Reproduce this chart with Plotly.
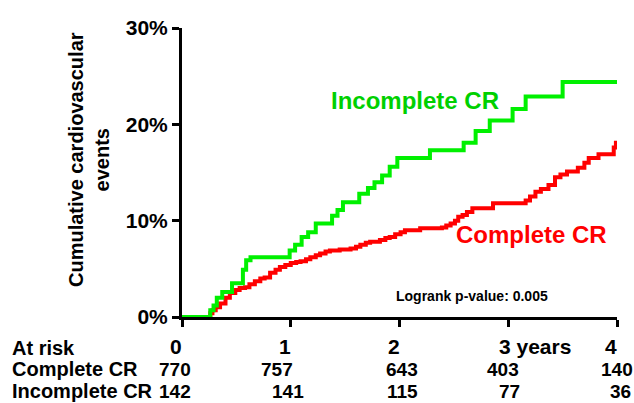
import plotly.graph_objects as go

# ---- data ----
incomplete_t = [0, 0.26, 0.29, 0.32, 0.37, 0.46, 0.56, 0.59, 0.63, 0.99, 1.04, 1.10, 1.16, 1.23,
                1.38, 1.43, 1.48, 1.63, 1.71, 1.77, 1.84, 1.91, 1.98, 2.28, 2.59, 2.70, 2.83,
                3.04, 3.16, 3.50, 4.0]
incomplete_v = [0, 0.7, 1.2, 2.0, 2.6, 3.5, 4.9, 5.9, 6.2, 6.9, 7.5, 8.3, 8.8, 9.7,
                10.5, 11.1, 11.9, 12.8, 13.4, 14.0, 14.7, 15.6, 16.5, 17.3, 18.1, 19.3, 20.4,
                21.6, 22.9, 24.4, 24.4]

complete_t = [0, 0.26, 0.28, 0.31, 0.35, 0.40, 0.44, 0.49, 0.53, 0.58, 0.62, 0.67, 0.72, 0.76,
              0.81, 0.86, 0.90, 0.95, 1.00, 1.05, 1.09, 1.14, 1.18, 1.23, 1.27, 1.32, 1.36,
              1.45, 1.55, 1.60, 1.64, 1.69, 1.73, 1.82, 1.87, 1.91, 1.96, 2.01, 2.05, 2.19,
              2.39, 2.43, 2.47, 2.51, 2.54, 2.58, 2.62, 2.67, 2.86, 3.16, 3.20, 3.25, 3.30,
              3.37, 3.43, 3.48, 3.54, 3.64, 3.70, 3.74, 3.83, 3.97, 3.99, 4.0]
complete_v = [0, 0.4, 0.7, 1.0, 1.4, 2.0, 2.5, 2.8, 3.0, 3.1, 3.4, 3.7, 4.0, 4.1,
              4.6, 4.9, 5.2, 5.4, 5.6, 5.7, 5.8, 6.0, 6.2, 6.4, 6.6, 6.8, 6.9,
              7.0, 7.1, 7.3, 7.5, 7.7, 7.8, 8.0, 8.2, 8.3, 8.6, 8.8, 9.0, 9.2,
              9.3, 9.5, 9.7, 10.0, 10.4, 10.6, 10.9, 11.3, 11.8, 12.1, 12.5, 13.0, 13.3,
              13.7, 14.5, 14.8, 15.1, 15.5, 16.0, 16.5, 16.9, 17.6, 18.1, 18.1]

years = [0, 1, 2, 3, 4]
year_labels = ["0", "1", "2", "3 years", "4"]
y_ticks = [0, 10, 20, 30]
y_tick_labels = ["0%", "10%", "20%", "30%"]
at_risk_complete = [770, 757, 643, 403, 140]
at_risk_incomplete = [142, 141, 115, 77, 36]

# ---- layout geometry ----
W, H = 634, 403
L, R, T, B = 182, 17, 28, 86
PH = H - T - B


def py(pix):
    return (H - B - pix) / PH


def px(pix):
    return (pix - L) / (W - L - R)


FONT = "Arial, Liberation Sans, sans-serif"
GREEN_LINE = "#00f000"
GREEN_TEXT = "#00d000"
RED = "#ff0000"

fig = go.Figure()
fig.add_trace(go.Scatter(x=complete_t, y=complete_v, mode="lines",
                         line=dict(color=RED, width=4, shape="hv"), hoverinfo="skip"))
fig.add_trace(go.Scatter(x=incomplete_t, y=incomplete_v, mode="lines",
                         line=dict(color=GREEN_LINE, width=4, shape="hv"), hoverinfo="skip"))

ann = []


def add(x, y, text, font, xref="paper", xanchor="center", xshift=0, angle=0):
    ann.append(dict(x=x, y=y, xref=xref, yref="paper", text=text, showarrow=False,
                    xanchor=xanchor, yanchor="middle", xshift=xshift, textangle=angle,
                    font=font))


# curve labels
add(px(415), py(100), "<b>Incomplete CR</b>", dict(family=FONT, size=24, color=GREEN_TEXT))
add(px(531), py(234), "<b>Complete CR</b>", dict(family=FONT, size=24, color=RED))
add(px(472), py(296), "<b>Logrank p-value: 0.005</b>", dict(family=FONT, size=14, color="black"))
# y title
add(px(89), py(160), "<b>Cumulative cardiovascular<br>events</b>",
    dict(family=FONT, size=20, color="black"), angle=-90)
# x tick labels
tick_font = dict(family=FONT, size=21, color="black")
for yr, lab in zip(years, year_labels):
    if lab == "3 years":
        add(yr, py(346), "<b>" + lab + "</b>", tick_font, xref="x", xanchor="left", xshift=-11)
    else:
        add(yr, py(346), "<b>" + lab + "</b>", tick_font, xref="x", xshift=-6)
# at-risk table
label_font = dict(family=FONT, size=20, color="black")
num_font = dict(family=FONT, size=19, color="black")
add(px(10), py(348), "<b>At risk</b>", label_font, xanchor="left")
add(px(10), py(369), "<b>Complete CR</b>", label_font, xanchor="left")
add(px(10), py(391), "<b>Incomplete CR</b>", label_font, xanchor="left")
shift_c = [-7, -14, 2, -5, 0]
shift_i = [-7, -3, 3, 1, 3]
for yr, n, s in zip(years, at_risk_complete, shift_c):
    add(yr, py(369), "<b>%d</b>" % n, num_font, xref="x", xshift=s)
for yr, n, s in zip(years, at_risk_incomplete, shift_i):
    add(yr, py(391), "<b>%d</b>" % n, num_font, xref="x", xshift=s)

fig.update_layout(
    width=W, height=H, margin=dict(l=L, r=R, t=T, b=B),
    paper_bgcolor="white", plot_bgcolor="white", showlegend=False,
    annotations=ann,
    xaxis=dict(range=[0, 4], tickvals=years, showticklabels=False, ticks="outside",
               ticklen=7, tickwidth=3, tickcolor="black", showline=True, linewidth=3,
               linecolor="black", showgrid=False, zeroline=False, fixedrange=True),
    yaxis=dict(range=[0, 30], tickvals=y_ticks, ticktext=["<b>%s</b>" % t for t in y_tick_labels],
               ticks="outside", ticklen=7, tickwidth=3, tickcolor="black", showline=True,
               linewidth=3, linecolor="black", showgrid=False, zeroline=False,
               tickfont=dict(family=FONT, size=21, color="black"), fixedrange=True),
)

fig.write_html("out.html", config={"displayModeBar": False},
               post_script="document.body.style.margin='0';")
